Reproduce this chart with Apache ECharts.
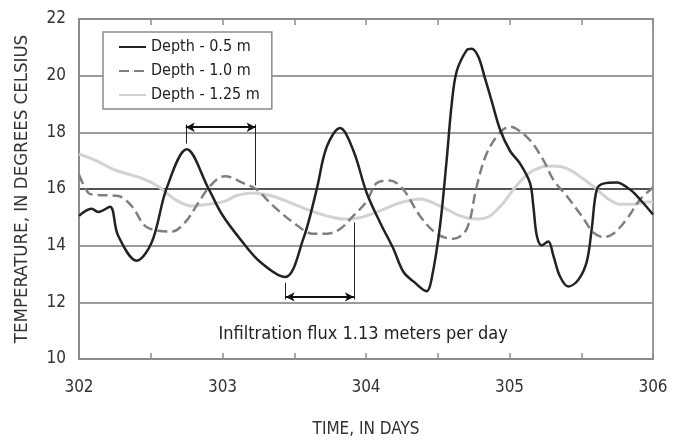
<!DOCTYPE html>
<html><head><meta charset="utf-8">
<script src="https://cdn.jsdelivr.net/npm/echarts@6/dist/echarts.min.js"></script>
<style>html,body{margin:0;padding:0;background:#fff}#c{width:680px;height:443px}</style>
</head><body><div id="c"></div>
<script>
const FONT = "'DejaVu Sans Condensed','Liberation Sans Narrow',sans-serif";
const seriesNames = ['Depth - 0.5 m', 'Depth - 1.0 m', 'Depth - 1.25 m'];

// [day, temperature °C]
const depth05 = [[302.0,15.05],[302.088,15.3],[302.134,15.19],[302.216,15.37],[302.272,14.36],[302.402,13.47],[302.507,14.12],[302.611,16.03],[302.751,17.4],[302.901,16.03],[302.997,15.1],[303.122,14.24],[303.261,13.43],[303.436,12.89],[303.563,14.24],[303.656,15.98],[303.726,17.48],[303.819,18.15],[303.911,17.37],[304.005,15.86],[304.098,14.82],[304.19,13.9],[304.26,13.08],[304.33,12.74],[304.423,12.39],[304.458,12.85],[304.516,14.7],[304.562,17.02],[304.597,18.99],[304.632,20.15],[304.702,20.9],[304.736,20.95],[304.783,20.67],[304.829,19.91],[304.876,19.1],[304.934,18.1],[305.003,17.35],[305.073,16.9],[305.143,16.21],[305.166,15.4],[305.19,14.36],[305.224,14.01],[305.27,14.15],[305.305,13.66],[305.352,12.91],[305.41,12.56],[305.48,12.8],[305.538,13.43],[305.573,14.59],[305.608,15.98],[305.654,16.19],[305.747,16.23],[305.84,15.98],[305.91,15.63],[306.0,15.1]];
const depth10 = [[302.0,16.5],[302.065,15.86],[302.111,15.8],[302.274,15.75],[302.367,15.4],[302.46,14.7],[302.553,14.53],[302.646,14.5],[302.739,14.82],[302.831,15.51],[302.901,16.03],[302.971,16.38],[303.017,16.45],[303.145,16.21],[303.238,15.98],[303.354,15.4],[303.493,14.82],[303.633,14.42],[303.726,14.42],[303.819,14.59],[303.911,15.05],[304.005,15.57],[304.075,16.21],[304.167,16.3],[304.26,15.98],[304.376,15.05],[304.493,14.42],[304.608,14.24],[304.702,14.59],[304.771,16.09],[304.841,17.25],[304.934,18.0],[305.003,18.2],[305.05,18.12],[305.143,17.72],[305.236,17.02],[305.305,16.33],[305.399,15.75],[305.503,15.05],[305.584,14.47],[305.654,14.3],[305.723,14.42],[305.817,14.94],[305.91,15.63],[306.0,16.05]];
const depth125 = [[302.0,17.23],[302.111,17.02],[302.251,16.67],[302.437,16.38],[302.553,16.09],[302.669,15.63],[302.785,15.4],[302.901,15.46],[303.017,15.57],[303.099,15.77],[303.215,15.86],[303.331,15.77],[303.447,15.57],[303.587,15.28],[303.726,15.05],[303.842,14.94],[303.958,14.99],[304.098,15.23],[304.237,15.51],[304.376,15.65],[304.516,15.4],[304.655,15.05],[304.771,14.94],[304.864,15.05],[304.957,15.51],[305.027,15.98],[305.12,16.5],[305.213,16.76],[305.305,16.81],[305.399,16.73],[305.491,16.44],[305.584,16.09],[305.677,15.69],[305.77,15.46],[305.863,15.46],[305.956,15.54],[306.0,15.54]];

const xTickLabels = [302, 303, 304, 305, 306];
const yTickLabels = [10, 12, 14, 16, 18, 20, 22];

// annotation (data coordinates)
const upperArrow = { from: 302.744, to: 303.231, level: 18.18, top: 18.28, leftEnd: 17.6, rightEnd: 16.13 };
const lowerArrow = { from: 303.44, to: 303.916, level: 12.19, bottom: 12.1, leftEnd: 12.69, rightEnd: 14.82 };
const fluxText = 'Infiltration flux 1.13 meters per day';
const fluxTextAt = [303.98, 10.86];

const axisGray = '#8c8c8c';
const chart = echarts.init(document.getElementById('c'), null, { renderer: 'canvas' });

const tickLine = (x, y1, y2) => [{ coord: [x, y1] }, { coord: [x, y2] }];

chart.setOption({
  animation: false,
  grid: { left: 79, right: 27, top: 19, bottom: 77.5 },
  legend: {
    data: seriesNames,
    orient: 'vertical', left: 103, top: 32,
    itemWidth: 27, itemHeight: 1, itemGap: 8,
    padding: [7, 12, 6, 15],
    borderColor: '#8a8a8a', borderWidth: 1.5, backgroundColor: '#fff',
    textStyle: { fontFamily: FONT, fontSize: 16, color: '#222' },
    selectedMode: false
  },
  xAxis: [{
    type: 'value', min: 302, max: 306, interval: 0.5, position: 'bottom',
    axisLine: { show: true, lineStyle: { color: axisGray, width: 2 } },
    axisTick: { show: true, inside: true, length: 6, lineStyle: { color: axisGray, width: 1.5 } },
    axisLabel: { margin: 20, fontFamily: FONT, fontSize: 17, color: '#333',
      formatter: v => xTickLabels.includes(v) ? String(v) : '' },
    splitLine: { show: false },
    name: 'TIME, IN DAYS', nameLocation: 'middle', nameGap: 62,
    nameTextStyle: { fontFamily: FONT, fontSize: 17, color: '#333' }
  }, {
    type: 'value', min: 302, max: 306, interval: 0.5, position: 'top',
    axisLine: { show: true, lineStyle: { color: axisGray, width: 2 } },
    axisTick: { show: true, inside: true, length: 6, lineStyle: { color: axisGray, width: 1.5 } },
    axisLabel: { show: false }, splitLine: { show: false }
  }],
  yAxis: [{
    type: 'value', min: 10, max: 22, interval: 2,
    axisLine: { show: true, lineStyle: { color: axisGray, width: 2 } },
    axisTick: { show: false },
    axisLabel: { margin: 13, fontFamily: FONT, fontSize: 17, color: '#333',
      formatter: v => yTickLabels.includes(v) ? String(v) : '' },
    splitLine: { show: true, lineStyle: { width: 1.5,
      color: ['#7a7a7a', '#7a7a7a', '#7a7a7a', '#1a1a1a', '#7a7a7a', '#7a7a7a', '#7a7a7a'] } },
    name: 'TEMPERATURE, IN DEGREES CELSIUS', nameLocation: 'middle', nameGap: 47,
    nameTextStyle: { fontFamily: FONT, fontSize: 18.5, color: '#333' }
  }, {
    type: 'value', min: 10, max: 22, interval: 2, position: 'right',
    axisLine: { show: true, lineStyle: { color: '#9a9a9a', width: 2 } },
    axisTick: { show: false }, axisLabel: { show: false }, splitLine: { show: false }
  }],
  series: [
    { name: seriesNames[2], type: 'line', data: depth125, smooth: 0.35, symbol: 'none',
      lineStyle: { color: '#d2d2d2', width: 3 }, itemStyle: { color: '#d2d2d2' }, z: 2 },
    { name: seriesNames[1], type: 'line', data: depth10, smooth: 0.35, symbol: 'none',
      lineStyle: { color: '#7f7f7f', width: 2.5, type: [10, 5] }, itemStyle: { color: '#7f7f7f' }, z: 3 },
    { name: seriesNames[0], type: 'line', data: depth05, smooth: 0.35, symbol: 'none',
      lineStyle: { color: '#222', width: 2.5 }, itemStyle: { color: '#222' }, z: 4 },
    { name: 'annotation', type: 'line', data: [], z: 5, silent: true,
      markLine: {
        silent: true, symbol: ['none', 'none'], label: { show: false },
        lineStyle: { color: '#222', width: 1, type: 'solid' }, emphasis: { disabled: true },
        data: [
          tickLine(upperArrow.from, upperArrow.top, upperArrow.leftEnd),
          tickLine(upperArrow.to, upperArrow.top, upperArrow.rightEnd),
          tickLine(lowerArrow.from, lowerArrow.leftEnd, lowerArrow.bottom),
          tickLine(lowerArrow.to, lowerArrow.rightEnd, lowerArrow.bottom)
        ]
      },
      markPoint: {
        silent: true, symbol: 'circle', symbolSize: 0,
        label: { show: true, position: 'inside', formatter: fluxText,
          fontFamily: FONT, fontSize: 18, color: '#222' },
        data: [{ coord: fluxTextAt }]
      }
    },
    { name: 'arrows', type: 'line', data: [], z: 6, silent: true,
      markLine: {
        silent: true, symbol: ['arrow', 'arrow'], symbolSize: [7, 9], label: { show: false },
        lineStyle: { color: '#111', width: 2, type: 'solid' }, emphasis: { disabled: true },
        data: [
          [{ coord: [upperArrow.from, upperArrow.level] }, { coord: [upperArrow.to, upperArrow.level] }],
          [{ coord: [lowerArrow.from, lowerArrow.level] }, { coord: [lowerArrow.to, lowerArrow.level] }]
        ]
      }
    }
  ]
});
</script>
</body></html>
